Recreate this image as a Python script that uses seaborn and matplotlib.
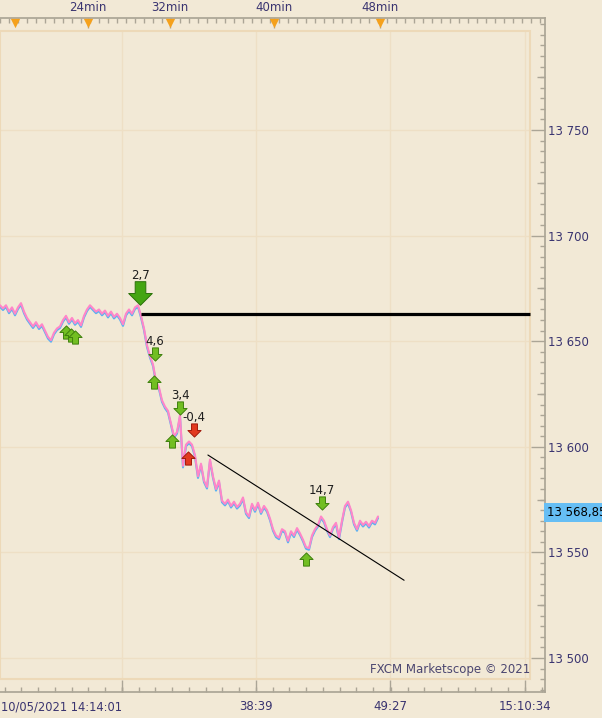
import numpy as np
import matplotlib
matplotlib.use("Agg")
import matplotlib.pyplot as plt
import matplotlib.transforms as mtransforms
from matplotlib.path import Path
from matplotlib.patches import Rectangle
from matplotlib.ticker import FixedLocator, MultipleLocator
import seaborn as sns

# bid quotes (one value every few ticks)
bid = [
    13667, 13665.5, 13667, 13664, 13666, 13663, 13666, 13668, 13664, 13661,
    13659, 13657, 13659, 13656.5, 13658, 13655, 13652, 13650.5, 13654, 13656,
    13657, 13660, 13662, 13659, 13661, 13658.5, 13660, 13657.5, 13662, 13665,
    13667, 13665.5, 13664, 13665, 13663, 13664.5, 13662, 13664, 13661.5, 13663,
    13661, 13658, 13663, 13665, 13663, 13666, 13667, 13662, 13656, 13648,
    13643, 13639, 13631, 13628, 13622, 13619, 13617, 13611, 13605, 13607,
    13615, 13591, 13601, 13602.5, 13601, 13596, 13586, 13592, 13584, 13581,
    13594, 13586, 13580, 13584, 13574.5, 13573, 13575, 13572, 13574, 13571.5,
    13573, 13576, 13569, 13567, 13573, 13570, 13573.5, 13569, 13572, 13570,
    13566, 13561, 13558, 13557, 13561, 13560, 13555.5, 13560, 13558, 13561.5,
    13559, 13556, 13552.5, 13552, 13558, 13561, 13563, 13567, 13565, 13561,
    13558, 13562, 13564, 13557, 13565, 13572, 13574, 13570, 13564, 13561,
    13565, 13563, 13564.5, 13562.5, 13565, 13564, 13567,
]
last_price = 13568.85

# horizontal level and trend line
level_price = 13663.0
level_start = 47.0
trend_idx = [69.3, 134.7]
trend_price = [13596.1, 13536.8]

# trade signals
sig_idx = [46.7, 22.0, 23.7, 25.0, 51.7, 51.3, 60.0, 57.3, 64.7, 62.7, 102.0, 107.3]
sig_price = [13672.8, 13654.4, 13653.0, 13652.0, 13643.9, 13630.7, 13618.4, 13602.7,
             13608.0, 13594.7, 13546.9, 13573.4]
sig_dir = ["down", "up", "up", "up", "down", "up", "down", "up", "down", "up", "up", "down"]
sig_kind = ["open", "win", "win", "win", "win", "win", "win", "win", "loss", "loss", "win", "win"]
sig_label = ["2,7", "", "", "", "4,6", "", "3,4", "", "-0,4", "", "", "14,7"]

# axis texts
bottom_ticks = [40.67, 85.33, 130.0, 175.0]
bottom_labels = ["10/05/2021 14:14:01", "38:39", "49:27", "15:10:34"]
top_ticks = [29.33, 56.67, 91.33, 126.67]
top_labels = ["24min", "32min", "40min", "48min"]
top_marks = [5.0, 29.33, 56.67, 91.33, 126.67]
price_ticks = [13500, 13550, 13600, 13650, 13700, 13750]

bg = "#F2E9D6"
txt = "#3A3470"
axc = "#ABA596"

sns.set_theme(style="ticks", rc={
    "figure.facecolor": bg, "axes.facecolor": bg, "axes.edgecolor": axc,
    "xtick.color": axc, "ytick.color": axc,
    "xtick.labelcolor": txt, "ytick.labelcolor": txt,
})
plt.rcParams["font.family"] = ["DejaVu Sans"]

fig = plt.figure(figsize=(6.02, 7.18), dpi=100)
ax = fig.add_axes([0, 26 / 718, 545 / 602, 674 / 718])
xmax = 545 / 3
ax.set_xlim(0, xmax)
ax.set_ylim(13483.9, 13803.0)

# inner panel and grid
clip = Rectangle((0, 13 / 674), 530 / 545, 648 / 674, transform=ax.transAxes,
                 fill=False, ec="#EDD9B8", lw=1.5, clip_on=False, zorder=1)
ax.add_patch(clip)
ax.set_yticks(price_ticks)
ax.set_xticks(bottom_ticks, bottom_labels)
ax.grid(True, color="#EEDFC5", lw=1)
for gl in ax.get_xgridlines() + ax.get_ygridlines():
    gl.set_clip_path(clip)

# quotes: blue bid shifted a little below the pink ask
idx = np.arange(len(bid))
sns.lineplot(x=idx, y=bid, ax=ax, color="#5AB2F2", lw=1.5, sort=False)
shift = mtransforms.ScaledTranslation(0, -1.6 / 100, fig.dpi_scale_trans)
ax.get_lines()[-1].set_transform(ax.transData + shift)
sns.lineplot(x=idx, y=bid, ax=ax, color="#FF86C8", lw=1.5, sort=False)

ax.hlines(level_price, level_start, 176.7, color="black", lw=2.3, zorder=4)
ax.plot(trend_idx, trend_price, color="black", lw=0.8, zorder=4)

# arrows
up = Path([(0, 1), (1, 0), (0.45, 0), (0.45, -1), (-0.45, -1), (-0.45, 0), (-1, 0), (0, 1)],
          [Path.MOVETO] + [Path.LINETO] * 6 + [Path.CLOSEPOLY])
down = Path([(x, -y) for x, y in up.vertices], up.codes)
style = {
    "open": dict(size=17, fc="#44A512", ec="#2B720A"),
    "win": dict(size=9.5, fc="#72BE22", ec="#3F800E"),
    "loss": dict(size=9.5, fc="#E2391F", ec="#A0190B"),
}
for i, p, d, k, lab in zip(sig_idx, sig_price, sig_dir, sig_kind, sig_label):
    s = style[k]
    ax.plot(i, p, marker=up if d == "up" else down, ms=s["size"], mfc=s["fc"],
            mec=s["ec"], mew=0.7, ls="none", zorder=5)
    if lab:
        ax.annotate(lab, (i, p), xytext=(0, s["size"] / 2 - 0.5), textcoords="offset points",
                    ha="center", va="bottom", fontsize=8.5, color="#1E1E1E", zorder=6)

# axes styling
ax.spines["left"].set_visible(False)
ax.spines["top"].set_visible(False)
ax.tick_params(axis="y", left=False, labelleft=False, right=True, labelright=True)
ax.yaxis.set_minor_locator(MultipleLocator(5))
ax.yaxis.set_major_formatter(lambda v, pos: f"{int(v) // 1000} {int(v) % 1000:03d}")
ax.tick_params(axis="y", which="major", direction="in", length=10, width=1, pad=2, labelsize=8.5)
ax.tick_params(axis="y", which="minor", direction="in", length=3.5, width=1, left=False, right=True)
sec = ax.secondary_yaxis("right")
sec.set_yticks(np.arange(13475, 13825, 50), [""] * 7)
sec.tick_params(direction="in", length=5.5, width=1, color=axc)
sec.spines["right"].set_visible(False)

minor_x = np.concatenate([np.arange(b - 44.67, b, 5.583) for b in bottom_ticks] +
                         [np.arange(175.0, xmax, 5.583)])
ax.xaxis.set_minor_locator(FixedLocator(minor_x))
ax.tick_params(axis="x", which="major", direction="in", length=9, width=1, pad=6, labelsize=8.5)
ax.tick_params(axis="x", which="minor", direction="in", length=3.5, width=1)
first = ax.get_xticklabels()[0]
first.set_ha("right")
first.set_fontsize(8.3)

axt = ax.twiny()
axt.set_xlim(0, xmax)
axt.set_xticks(top_ticks, top_labels)
axt.xaxis.set_minor_locator(MultipleLocator(3))
axt.tick_params(axis="x", which="major", direction="in", length=7, width=1, pad=3,
                labelsize=8.5, colors=axc, labelcolor=txt)
axt.tick_params(axis="x", which="minor", direction="in", length=3.5, width=1, colors=axc)
for side in ["left", "right", "bottom"]:
    axt.spines[side].set_visible(False)
axt.scatter(top_marks, [1 - 5 / 674] * len(top_marks), marker="v", s=45, color="#F5A11C",
            transform=mtransforms.blended_transform_factory(axt.transData, axt.transAxes),
            clip_on=False, zorder=7, lw=0)

# last price box and watermark
ax.text(1.003, last_price, "13 568,85", transform=mtransforms.blended_transform_factory(
    ax.transAxes, ax.transData), ha="left", va="center", fontsize=8.5, color="black",
    bbox=dict(boxstyle="square,pad=0.25", fc="#66BEF4", ec="none"), clip_on=False)
ax.text(0.973, 0.024, "FXCM Marketscope © 2021", transform=ax.transAxes, ha="right",
        va="bottom", fontsize=8.5, color="#4B4670")

fig.savefig("out.png", dpi=100, facecolor=bg)
